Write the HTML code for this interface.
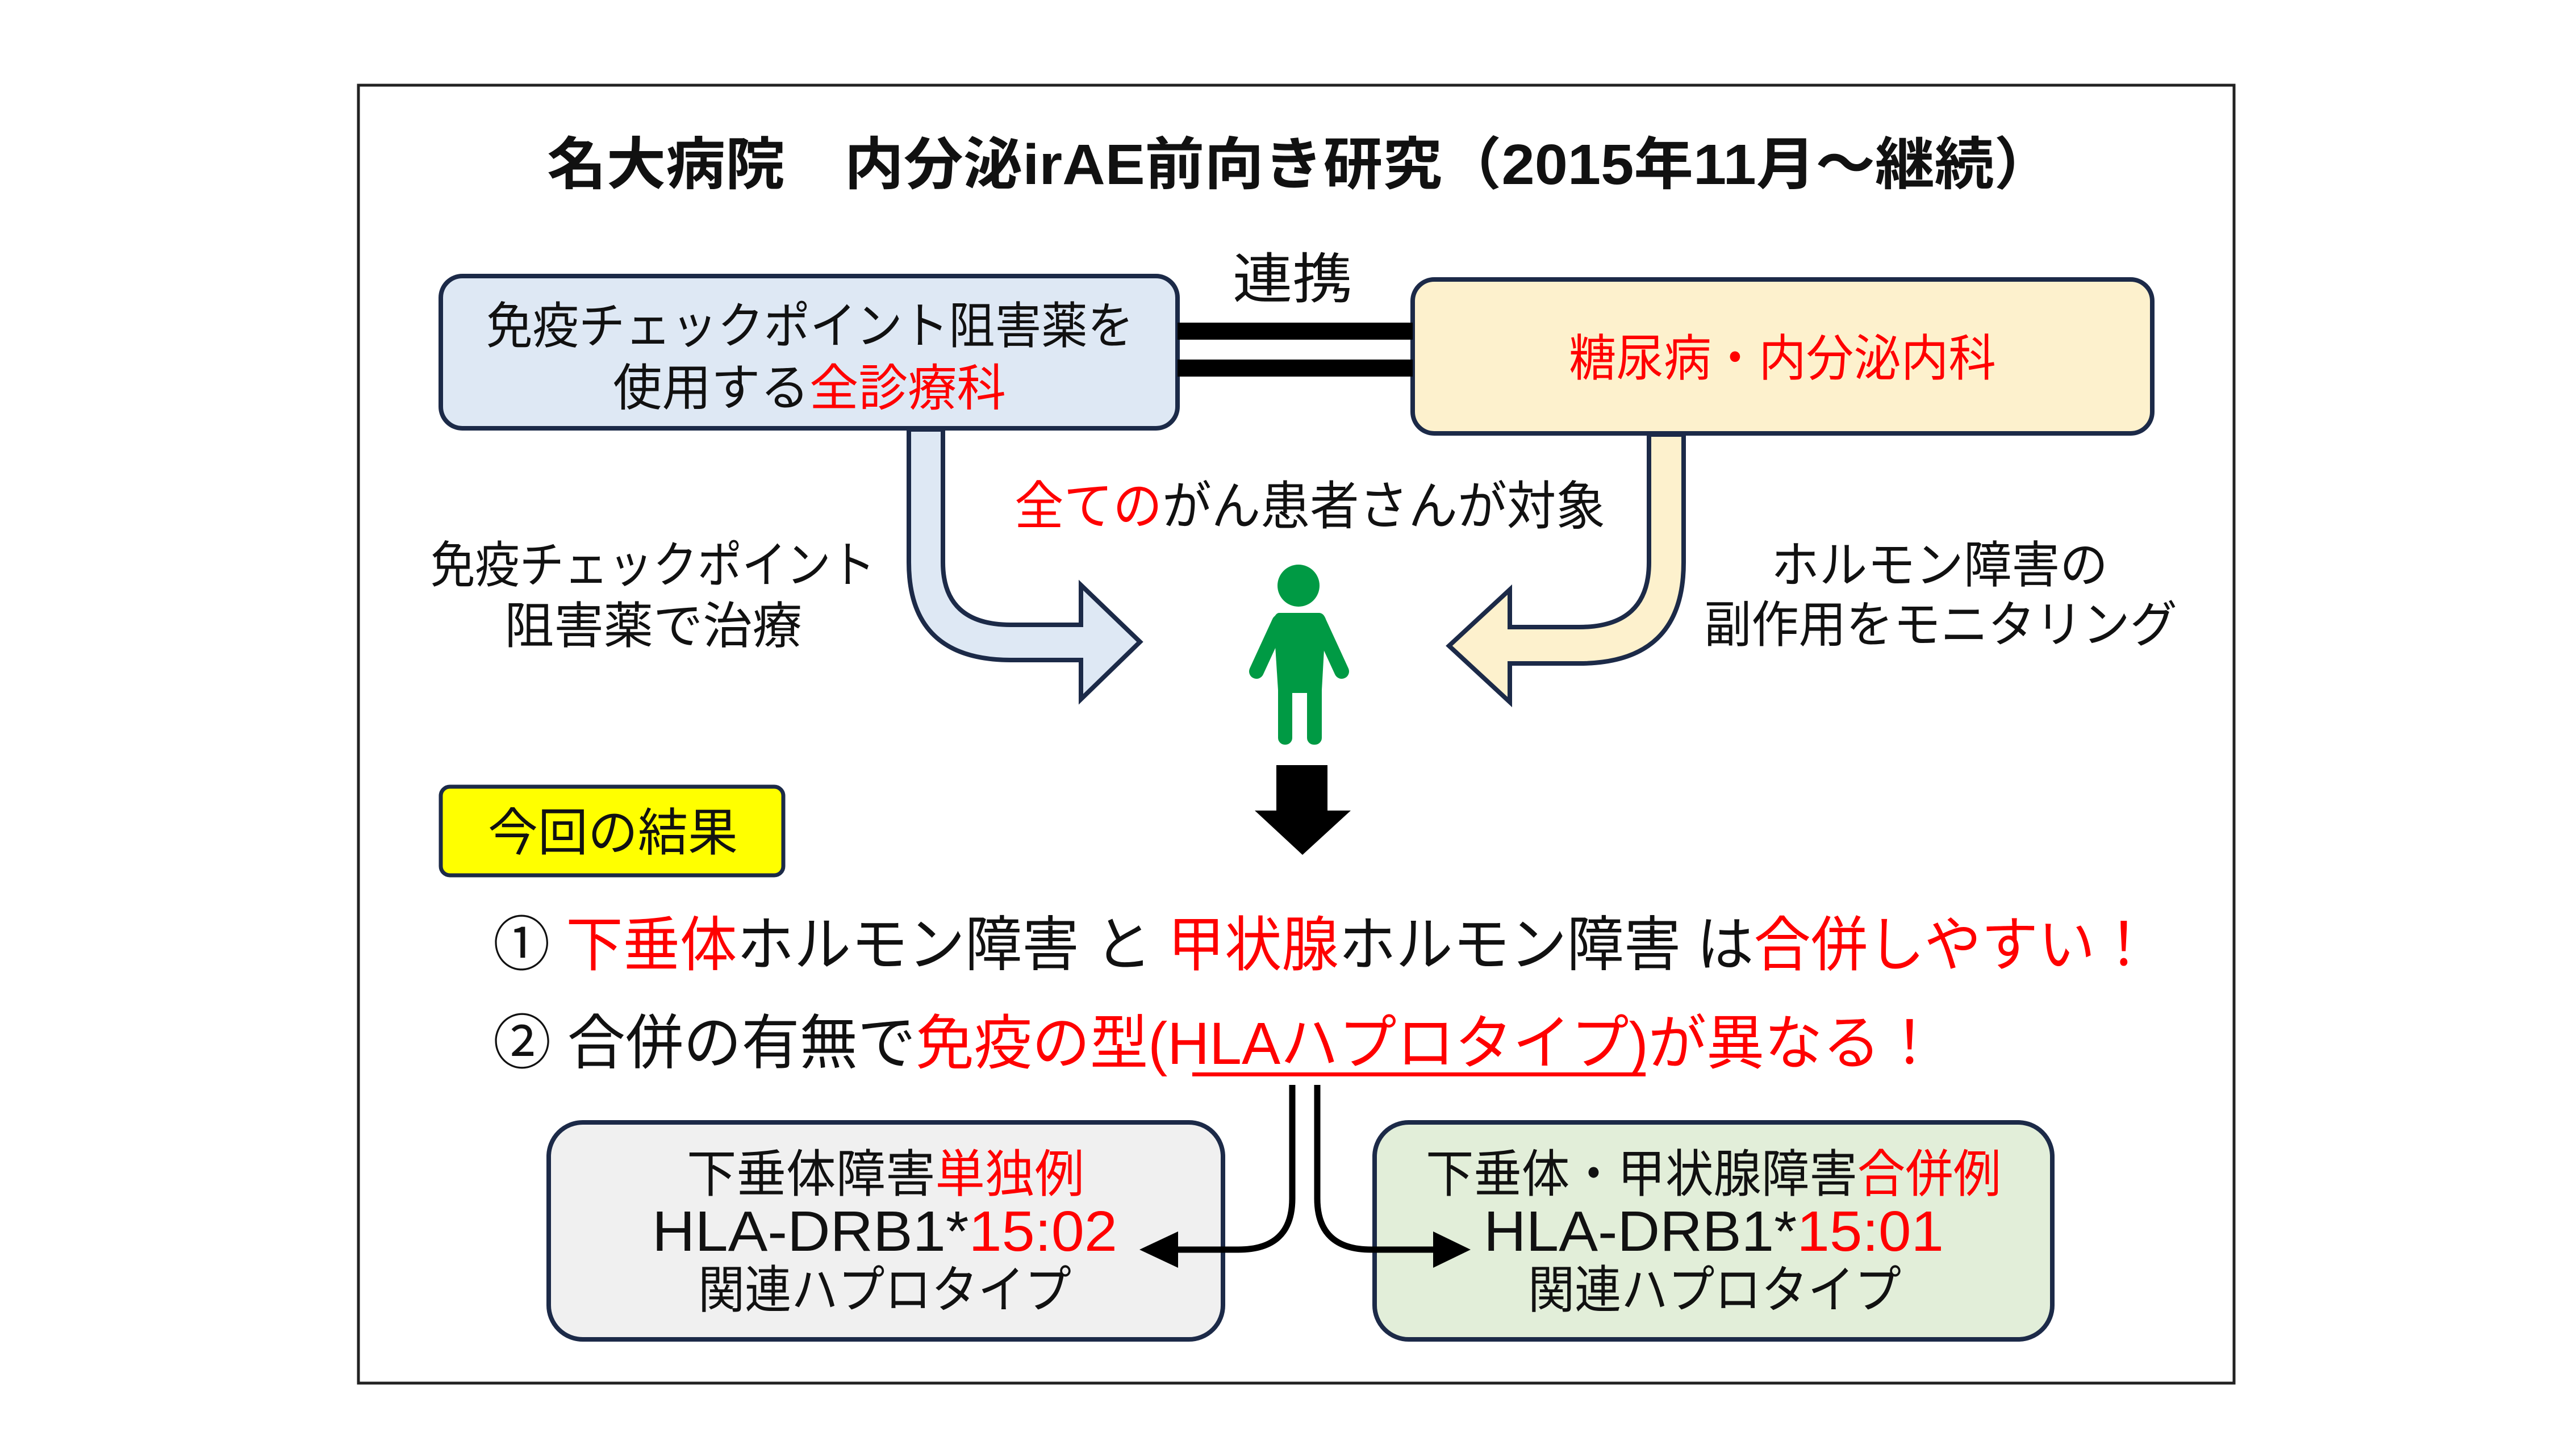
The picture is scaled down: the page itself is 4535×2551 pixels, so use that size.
<!DOCTYPE html>
<html><head><meta charset="utf-8"><style>html,body{margin:0;padding:0;background:#fff}svg{display:block}</style></head>
<body>
<svg width="4535" height="2551" viewBox="0 0 4535 2551" xmlns="http://www.w3.org/2000/svg" font-family="'Liberation Sans','Noto Sans CJK JP',sans-serif">
<rect x="0" y="0" width="4535" height="2551" fill="#fff"/>
<rect x="631" y="150" width="3302" height="2285" fill="none" stroke="#222" stroke-width="5"/>

<text x="963" y="290" dominant-baseline="central" font-size="100" font-weight="bold" textLength="2652" lengthAdjust="spacingAndGlyphs" fill="#111">名大病院　内分泌irAE前向き研究（2015年11月～継続）</text>

<!-- top boxes -->
<rect x="776" y="486" width="1297" height="268" rx="38" fill="#dee8f4" stroke="#1c2a48" stroke-width="8"/>
<text x="856" y="574" dominant-baseline="central" font-size="88" textLength="1140" lengthAdjust="spacingAndGlyphs" fill="#111">免疫チェックポイント阻害薬を</text>
<text x="1079" y="683" dominant-baseline="central" font-size="88" textLength="692" lengthAdjust="spacingAndGlyphs" fill="#111">使用する<tspan fill="#ff0000">全診療科</tspan></text>

<rect x="2487" y="492" width="1302" height="271" rx="38" fill="#fdf1cd" stroke="#1c2a48" stroke-width="8"/>
<text x="2762" y="631" dominant-baseline="central" font-size="88" textLength="752" lengthAdjust="spacingAndGlyphs" fill="#ff0000">糖尿病・内分泌内科</text>

<text x="2170" y="492" dominant-baseline="central" font-size="96" textLength="211" lengthAdjust="spacingAndGlyphs" fill="#111">連携</text>
<rect x="2073" y="568" width="414" height="30" fill="#000"/>
<rect x="2073" y="633" width="414" height="30" fill="#000"/>

<!-- curved arrows -->
<path d="M1600,756 L1600,990 Q1600,1162 1780,1162 L1903,1162 L1903,1231 L2007,1130 L1903,1030 L1903,1100 L1780,1100 Q1660,1100 1660,990 L1660,756 Z" fill="#dee8f4" stroke="#1c2a48" stroke-width="8" stroke-linejoin="miter"/>
<path d="M2964,765 L2964,990 Q2964,1168 2780,1168 L2658,1168 L2658,1236 L2551,1137 L2658,1038 L2658,1104 L2780,1104 Q2903,1104 2903,990 L2903,765 Z" fill="#fdf1cd" stroke="#1c2a48" stroke-width="8"/>

<text x="1786" y="892" dominant-baseline="central" font-size="92" textLength="1040" lengthAdjust="spacingAndGlyphs" fill="#111"><tspan fill="#ff0000">全ての</tspan>がん患者さんが対象</text>

<text x="758" y="995" dominant-baseline="central" font-size="88" textLength="783" lengthAdjust="spacingAndGlyphs" fill="#111">免疫チェックポイント</text>
<text x="888" y="1102" dominant-baseline="central" font-size="88" textLength="524" lengthAdjust="spacingAndGlyphs" fill="#111">阻害薬で治療</text>
<text x="3118" y="995" dominant-baseline="central" font-size="88" textLength="593" lengthAdjust="spacingAndGlyphs" fill="#111">ホルモン障害の</text>
<text x="3000" y="1100" dominant-baseline="central" font-size="88" textLength="833" lengthAdjust="spacingAndGlyphs" fill="#111">副作用をモニタリング</text>

<!-- person -->
<g fill="#009a44">
<circle cx="2286" cy="1031" r="37"/>
<path d="M2252,1079 L2322,1079 Q2330,1079 2334,1090 L2327,1215 L2250,1215 L2242,1090 Q2246,1079 2252,1079 Z"/>
<rect x="2250" y="1150" width="77" height="70"/>
<rect x="2250" y="1200" width="25" height="111" rx="12"/>
<rect x="2301" y="1200" width="26" height="111" rx="12"/>
</g>
<g stroke="#009a44" stroke-width="26" stroke-linecap="round">
<line x1="2252" y1="1095" x2="2212" y2="1182"/>
<line x1="2322" y1="1095" x2="2362" y2="1182"/>
</g>

<!-- down arrow -->
<polygon points="2247,1347 2337,1347 2337,1427 2378,1427 2293,1505 2209,1427 2247,1427" fill="#000"/>

<!-- result label -->
<rect x="776" y="1385" width="603" height="156" rx="16" fill="#ffff00" stroke="#1c2a48" stroke-width="7"/>
<text x="859" y="1467" dominant-baseline="central" font-size="90" textLength="440" lengthAdjust="spacingAndGlyphs" fill="#111">今回の結果</text>

<text x="868" y="1664" dominant-baseline="central" font-size="105" textLength="2921" lengthAdjust="spacingAndGlyphs" fill="#111">① <tspan fill="#ff0000">下垂体</tspan>ホルモン障害 と <tspan fill="#ff0000">甲状腺</tspan>ホルモン障害 は<tspan fill="#ff0000">合併しやすい！</tspan></text>
<text x="868" y="1837" dominant-baseline="central" font-size="105" textLength="2545" lengthAdjust="spacingAndGlyphs" fill="#111">② 合併の有無で<tspan fill="#ff0000">免疫の型(HLAハプロタイプ)が異なる！</tspan></text>
<rect x="2099" y="1888" width="798" height="7" fill="#ff0000"/>

<!-- bottom boxes -->
<rect x="966" y="1976" width="1187" height="382" rx="60" fill="#f0f0f0" stroke="#1c2a48" stroke-width="8"/>
<text x="1209" y="2068" dominant-baseline="central" font-size="90" textLength="700" lengthAdjust="spacingAndGlyphs" fill="#111">下垂体障害<tspan fill="#ff0000">単独例</tspan></text>
<text x="1148" y="2168" dominant-baseline="central" font-size="100" textLength="819" lengthAdjust="spacingAndGlyphs" fill="#111">HLA-DRB1*<tspan fill="#ff0000">15:02</tspan></text>
<text x="1229" y="2272" dominant-baseline="central" font-size="90" textLength="657" lengthAdjust="spacingAndGlyphs" fill="#111">関連ハプロタイプ</text>

<rect x="2420" y="1976" width="1193" height="382" rx="60" fill="#e2eed9" stroke="#1c2a48" stroke-width="8"/>
<text x="2510" y="2068" dominant-baseline="central" font-size="90" textLength="1013" lengthAdjust="spacingAndGlyphs" fill="#111">下垂体・甲状腺障害<tspan fill="#ff0000">合併例</tspan></text>
<text x="2612" y="2168" dominant-baseline="central" font-size="100" textLength="810" lengthAdjust="spacingAndGlyphs" fill="#111">HLA-DRB1*<tspan fill="#ff0000">15:01</tspan></text>
<text x="2690" y="2272" dominant-baseline="central" font-size="90" textLength="657" lengthAdjust="spacingAndGlyphs" fill="#111">関連ハプロタイプ</text>

<!-- connectors -->
<g fill="none" stroke="#000" stroke-width="11">
<path d="M2275,1910 L2275,2110 Q2275,2200 2180,2200 L2070,2200"/>
<path d="M2319,1910 L2319,2110 Q2319,2200 2414,2200 L2527,2200"/>
</g>
<polygon points="2006,2200 2074,2168 2074,2232" fill="#000"/>
<polygon points="2589,2200 2523,2168 2523,2232" fill="#000"/>
</svg>
</body></html>
